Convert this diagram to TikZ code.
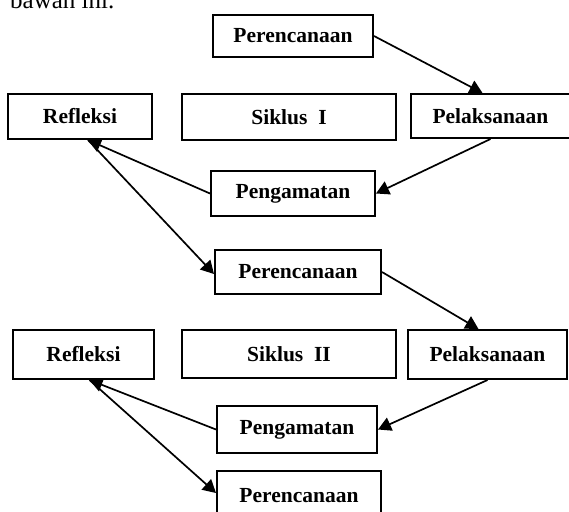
\documentclass[tikz,border=0pt]{standalone}
\usepackage{fontspec}
\setmainfont{Liberation Serif}
\usetikzlibrary{arrows.meta}

\begin{document}
\begin{tikzpicture}[>={Triangle[length=13pt,width=14pt]}, x=1pt, y=-1pt,
    box/.style={draw, line width=2pt, inner sep=0pt, font=\fontsize{21.5}{25}\selectfont\bfseries},
    arr/.style={->, line width=1.7pt}]
    \useasboundingbox (0,0) rectangle (569,511);
    \node[anchor=base west, inner sep=0pt, font=\fontsize{25}{29}\selectfont] (intro) at (10,9) {bawah ini.};

    \node[box, minimum width=160pt, minimum height=42pt] (per1) at (293,36) {Perencanaan};
    \node[box, minimum width=144pt, minimum height=45pt] (ref1) at (80,116.5) {Refleksi};
    \node[box, minimum width=214pt, minimum height=46pt] (sik1) at (289,117) {Siklus\ \ I};
    \node[box, minimum width=159pt, minimum height=44pt] (pel1) at (490.5,116) {Pelaksanaan};
    \node[box, minimum width=164pt, minimum height=45pt] (pen1) at (293,193.5) {Pengamatan};

    \node[box, minimum width=166pt, minimum height=44pt] (per2) at (298,272) {Perencanaan};
    \node[box, minimum width=141pt, minimum height=49pt] (ref2) at (83.5,354.5) {Refleksi};
    \node[box, minimum width=214pt, minimum height=48pt] (sik2) at (289,354) {Siklus\ \ II};
    \node[box, minimum width=159pt, minimum height=49pt] (pel2) at (487.5,354.5) {Pelaksanaan};
    \node[box, minimum width=160pt, minimum height=47pt] (pen2) at (297,429.5) {Pengamatan};
    \node[box, minimum width=164pt, minimum height=50pt] (per3) at (299,496) {Perencanaan};

    \draw[arr] (per1.east) -- ([xshift=-8pt]pel1.north);
    \draw[arr] (pel1.south) -- (pen1.east);
    \draw[arr] (pen1.west) -- ([xshift=8pt]ref1.south);
    \draw[arr] ([xshift=8pt]ref1.south) -- ([yshift=-2pt]per2.west);

    \draw[arr] (per2.east) -- ([xshift=-9pt]pel2.north);
    \draw[arr] (pel2.south) -- (pen2.east);
    \draw[arr] (pen2.west) -- ([xshift=6pt]ref2.south);
    \draw[arr] ([xshift=6pt]ref2.south) -- ([yshift=3pt]per3.west);
\end{tikzpicture}
\end{document}
